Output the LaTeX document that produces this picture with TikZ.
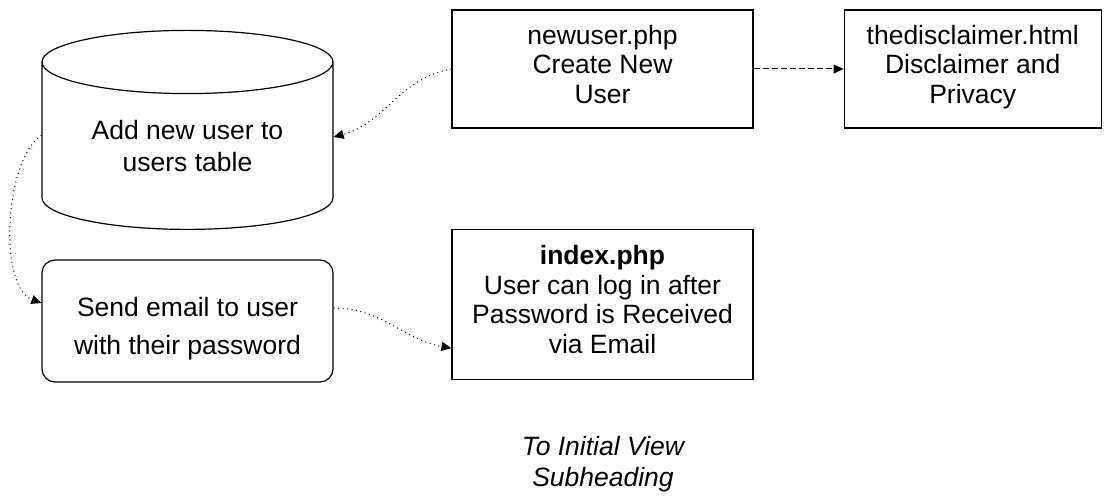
\documentclass[tikz,border=0pt]{standalone}
\usepackage{fontspec}
\setmainfont{Liberation Sans}
\usepackage{tikz}
\usetikzlibrary{shapes.geometric, positioning, arrows.meta}
\tikzstyle{pagebox} = [rectangle,draw,line width=1.2pt,align=center,inner sep=0pt,text depth=10pt,font=\fontsize{26.5}{29.5}\selectfont]
\tikzstyle{dbcyl} = [cylinder,draw,line width=1.2pt,shape border rotate=90,aspect=0.33,align=center,inner sep=0pt,font=\fontsize{26.5}{32}\selectfont]
\tikzstyle{actbox} = [rectangle,rounded corners=13pt,draw,line width=1.2pt,align=center,inner sep=0pt,text height=72pt,font=\fontsize{26.5}{38}\selectfont]
\tikzstyle{flowdot} = [line width=1pt,dash pattern=on 1pt off 3.5pt,-{Triangle[length=10pt,width=9pt]}]
\tikzstyle{flowdash} = [line width=1pt,dash pattern=on 6pt off 3pt,-{Triangle[length=10pt,width=9pt]}]

\begin{document}
\begin{tikzpicture}[x=1pt,y=1pt]
		\useasboundingbox (0,0) rectangle (1104,497);
		\node [pagebox,minimum width=301pt,minimum height=118pt](newuser) at (602.5,428){newuser.php\\Create New\\User};
		\node [pagebox,right=90pt of newuser,minimum width=257pt,minimum height=118pt](disclaimer){thedisclaimer.html\\Disclaimer and\\Privacy};
		\node [pagebox,below=100pt of newuser,minimum width=301pt,minimum height=150pt](index){\textbf{index.php}\\User can log in after\\Password is Received\\via Email};
		\node [dbcyl,anchor=bottom,minimum width=291pt,minimum height=199pt](db) at (187.5,267){Add new user to\\users table};
		\node [actbox,minimum width=291pt,minimum height=122pt](send) at (187.5,176){Send email to user\\with their password};
		\node [align=center,font=\fontsize{26.5}{31}\selectfont\itshape](note) at (603,32.5){To Initial View\\Subheading};

		\draw[flowdash](newuser.east)--(disclaimer.west);
		\draw[flowdot](newuser.west) to[out=190,in=15] ([yshift=9pt]db.east);
		\draw[flowdot]([yshift=11pt]db.west) to[out=215,in=160,looseness=0.7] ([yshift=18pt]send.west);
		\draw[flowdot]([yshift=13pt]send.east) to[out=0,in=170] ([yshift=-44pt]index.west);
		\end{tikzpicture}
\end{document}
